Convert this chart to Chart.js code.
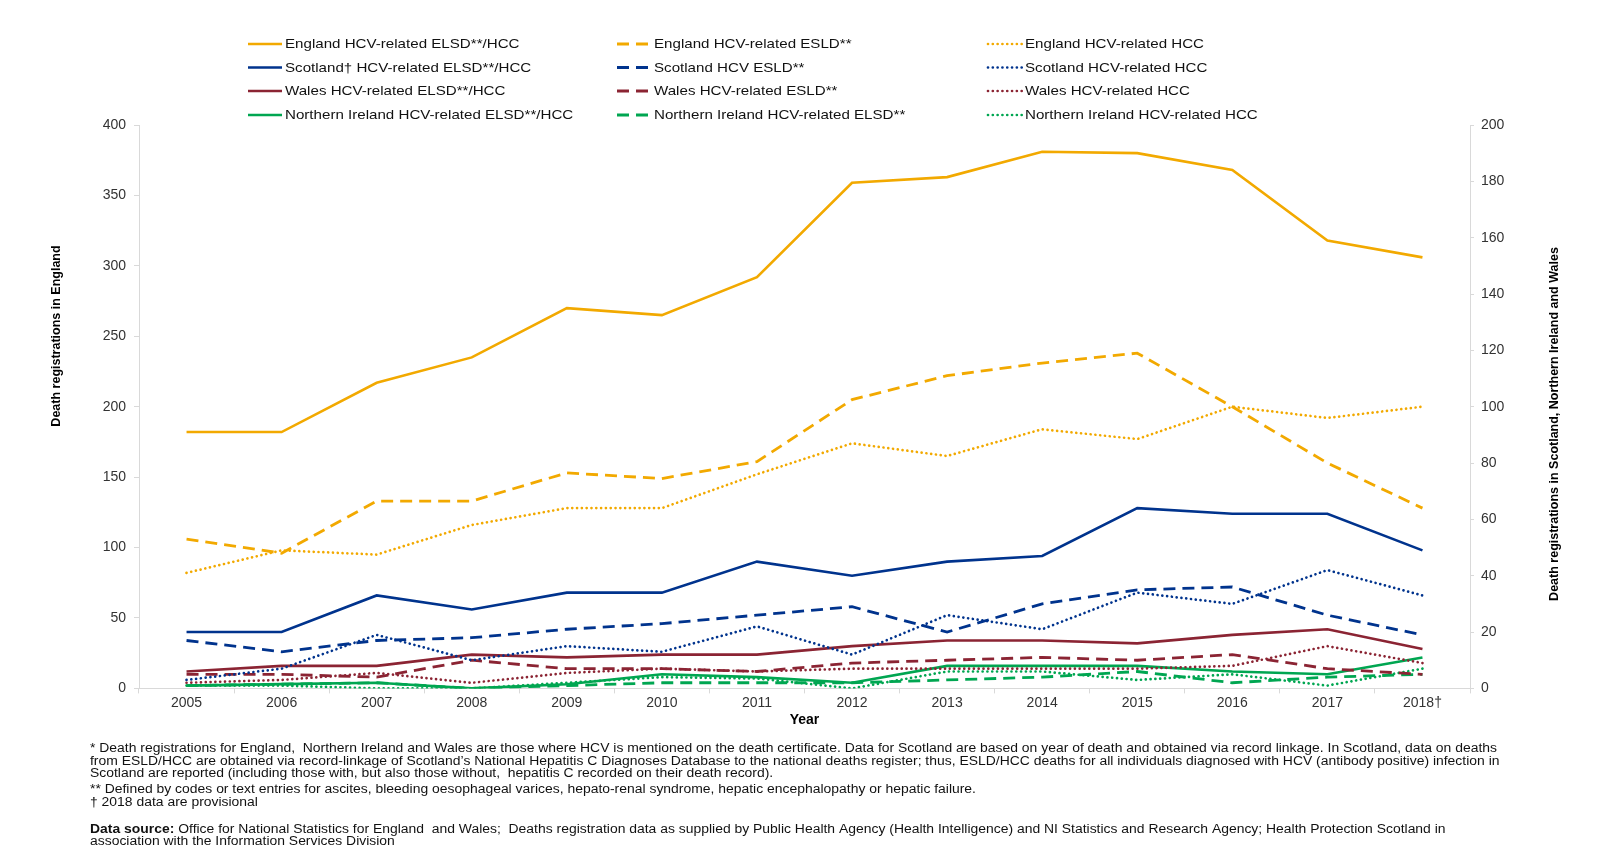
<!DOCTYPE html>
<html><head><meta charset="utf-8">
<script src="https://cdn.jsdelivr.net/npm/chart.js@4.4.0/dist/chart.umd.min.js"></script>
<style>html,body{margin:0;padding:0;background:#fff;overflow:hidden}</style>
</head><body>
<canvas id="c" width="1622" height="862"></canvas>
<script>
// ---- Data ----
const years = ['2005','2006','2007','2008','2009','2010','2011','2012','2013','2014','2015','2016','2017','2018†'];
// England (left axis)
const englandAll  = [182,182,217,235,270,265,292,359,363,381,380,368,318,306];
const englandEsld = [106,96,133,133,153,149,161,205,222,231,238,200,160,128];
const englandHcc  = [82,98,95,116,128,128,152,174,165,184,177,200,192,200];
// Scotland (right axis)
const scotlandAll  = [20,20,33,28,34,34,45,40,45,47,64,62,62,49];
const scotlandEsld = [17,13,17,18,21,23,26,29,20,30,35,36,26,19];
const scotlandHcc  = [3,7,19,10,15,13,22,12,26,21,34,30,42,33];
// Wales (right axis)
const walesAll  = [6,8,8,12,11,12,12,15,17,17,16,19,21,14];
const walesEsld = [5,5,4,10,7,7,6,9,10,11,10,12,7,5];
const walesHcc  = [2,3,5.5,2,5.5,7,6,7,7,7,7,8,15,9];
// Northern Ireland (right axis)
const niAll  = [1,1.5,2,0,1.5,5,4,2,8,8,8,6,5,11];
const niEsld = [1,1.5,2,0,1,2,2,2,3,4,6,2,4,5];
const niHcc  = [1,1,0,0,2,4,3.5,0,6,6,3,5,1,7];

const leftTicksMax = 400, rightTicksMax = 200;
const leftTitle = 'Death registrations in England';
const rightTitle = 'Death registrations in Scotland, Northern Ireland and Wales';

const footLines = [
 '* Death registrations for England,  Northern Ireland and Wales are those where HCV is mentioned on the death certificate. Data for Scotland are based on year of death and obtained via record linkage. In Scotland, data on deaths',
 'from ESLD/HCC are obtained via record-linkage of Scotland\u2019s National Hepatitis C Diagnoses Database to the national deaths register; thus, ESLD/HCC deaths for all individuals diagnosed with HCV (antibody positive) infection in',
 'Scotland are reported (including those with, but also those without,  hepatitis C recorded on their death record).',
 '** Defined by codes or text entries for ascites, bleeding oesophageal varices, hepato-renal syndrome, hepatic encephalopathy or hepatic failure.',
 '\u2020 2018 data are provisional'
];
const sourceBold = 'Data source:';
const sourceLines = [
 ' Office for National Statistics for England  and Wales;  Deaths registration data as supplied by Public Health Agency (Health Intelligence) and NI Statistics and Research Agency; Health Protection Scotland in',
 'association with the Information Services Division'
];

// ---- Styles ----
const C_ENG = '#F2A900', C_SCO = '#00338D', C_WAL = '#8B2433', C_NI = '#00A651';
const FONT = '"Liberation Sans", Arial, Helvetica, sans-serif';
const solid = (c)=>({borderColor:c, backgroundColor:c, borderWidth:2.6, borderDash:[], borderCapStyle:'butt'});
const dashed = (c)=>({borderColor:c, backgroundColor:c, borderWidth:2.8, borderDash:[12,7], borderCapStyle:'butt'});
const dotted = (c)=>({borderColor:c, backgroundColor:c, borderWidth:2.7, borderDash:[0.01,4.8], borderCapStyle:'round'});

const mk = (label, data, axis, style, order)=>Object.assign({label, data, yAxisID:axis, pointRadius:0, pointHoverRadius:0, tension:0, fill:false, order}, style);

const datasets = [
 mk('England HCV-related ELSD**/HCC', englandAll, 'y', solid(C_ENG), 1),
 mk('England HCV-related ESLD**', englandEsld, 'y', dashed(C_ENG), 2),
 mk('England HCV-related HCC', englandHcc, 'y', dotted(C_ENG), 3),
 mk('Scotland\u2020 HCV-related ELSD**/HCC', scotlandAll, 'y1', solid(C_SCO), 4),
 mk('Scotland HCV ESLD**', scotlandEsld, 'y1', dashed(C_SCO), 5),
 mk('Scotland HCV-related HCC', scotlandHcc, 'y1', dotted(C_SCO), 6),
 mk('Wales HCV-related ELSD**/HCC', walesAll, 'y1', solid(C_WAL), 7),
 mk('Wales HCV-related ESLD**', walesEsld, 'y1', dashed(C_WAL), 8),
 mk('Wales HCV-related HCC', walesHcc, 'y1', dotted(C_WAL), 9),
 mk('Northern Ireland HCV-related ELSD**/HCC', niAll, 'y1', solid(C_NI), 10),
 mk('Northern Ireland HCV-related ELSD**', niEsld, 'y1', dashed(C_NI), 11),
 mk('Northern Ireland HCV-related HCC', niHcc, 'y1', dotted(C_NI), 12)
];

const LEG_X = [248, 617, 988], LEG_Y = [44, 67.5, 91, 115];
const gridLegend = {
 id:'gridLegend',
 afterDraw(chart){
  const ctx = chart.ctx; ctx.save();
  chart.data.datasets.forEach((ds,i)=>{
   const x = LEG_X[i%3], y = LEG_Y[Math.floor(i/3)];
   ctx.strokeStyle = ds.borderColor; ctx.lineWidth = ds.borderWidth;
   ctx.setLineDash(ds.borderDash); ctx.lineCap = ds.borderCapStyle;
   ctx.beginPath(); ctx.moveTo(x, y); ctx.lineTo(x+34, y); ctx.stroke();
   ctx.setLineDash([]); ctx.lineCap='butt';
   ctx.fillStyle = '#111'; ctx.font = '13.5px ' + FONT; ctx.textBaseline = 'middle'; ctx.textAlign='left';
   ctx.save(); ctx.translate(x+37, y+0.5); ctx.scale(1.12, 1); ctx.fillText(ds.label, 0, 0); ctx.restore();
  });
  ctx.restore();
 }
};

const axisTitles = {
 id:'axisTitles',
 afterDraw(chart){
  const ctx = chart.ctx; ctx.save();
  ctx.fillStyle = '#000'; ctx.font = 'bold 12.5px ' + FONT; ctx.textAlign = 'center'; ctx.textBaseline = 'middle';
  ctx.save(); ctx.translate(57, 336); ctx.rotate(-Math.PI/2); ctx.fillText(leftTitle, 0, 0); ctx.restore();
  ctx.save(); ctx.translate(1555, 424); ctx.rotate(-Math.PI/2); ctx.fillText(rightTitle, 0, 0); ctx.restore();
  ctx.restore();
 }
};

const FOOT_X = 90, FOOT_W = 1407, FOOT_Y = [749, 761.3, 773.7, 790, 802.5], SRC_Y = [829.5, 842];
const footnotes = {
 id:'footnotes',
 afterDraw(chart){
  const ctx = chart.ctx; ctx.save();
  ctx.fillStyle = '#111'; ctx.textBaseline = 'middle'; ctx.textAlign = 'left';
  ctx.font = '12.5px ' + FONT;
  const sx = FOOT_W / ctx.measureText(footLines[0]).width;
  const draw = (t, x, y, bold)=>{
   ctx.font = (bold?'bold ':'') + '12.5px ' + FONT;
   ctx.save(); ctx.translate(x, y); ctx.scale(sx, 1); ctx.fillText(t, 0, 0); const w = ctx.measureText(t).width*sx; ctx.restore(); return w;
  };
  footLines.forEach((t,i)=>draw(t, FOOT_X, FOOT_Y[i], false));
  const bw = draw(sourceBold, FOOT_X, SRC_Y[0], true);
  draw(sourceLines[0], FOOT_X + bw, SRC_Y[0], false);
  draw(sourceLines[1], FOOT_X, SRC_Y[1], false);
  ctx.restore();
 }
};

const AXC = '#d9d9d9', TICKC = '#333';
new Chart(document.getElementById('c'), {
 type:'line',
 data:{labels:years, datasets},
 options:{
  responsive:false, animation:false, devicePixelRatio:1,
  layout:{padding:{left:45, right:57, top:125, bottom:133}},
  plugins:{legend:{display:false}, tooltip:{enabled:false}},
  scales:{
   x:{
    offset:true,
    grid:{display:true, drawOnChartArea:false, drawTicks:true, tickLength:5, color:AXC, offset:true},
    border:{display:true, color:AXC},
    ticks:{font:{family:FONT, size:14}, color:TICKC, padding:1, maxRotation:0, autoSkip:false},
    title:{display:true, text:'Year', font:{family:FONT, size:14, weight:'bold'}, color:'#000', padding:{top:0, bottom:0}}
   },
   y:{
    position:'left', min:0, max:leftTicksMax,
    ticks:{stepSize:50, font:{family:FONT, size:14}, color:TICKC, padding:8},
    grid:{display:true, drawOnChartArea:false, drawTicks:true, tickLength:5, color:AXC},
    border:{display:true, color:AXC},
    afterFit(s){ s.width = 94; }
   },
   y1:{
    position:'right', min:0, max:rightTicksMax,
    ticks:{stepSize:20, font:{family:FONT, size:14}, color:TICKC, padding:7},
    grid:{display:true, drawOnChartArea:false, drawTicks:true, tickLength:4, color:AXC},
    border:{display:true, color:AXC},
    afterFit(s){ s.width = 95; }
   }
  }
 },
 plugins:[gridLegend, axisTitles, footnotes]
});
</script>
</body></html>
